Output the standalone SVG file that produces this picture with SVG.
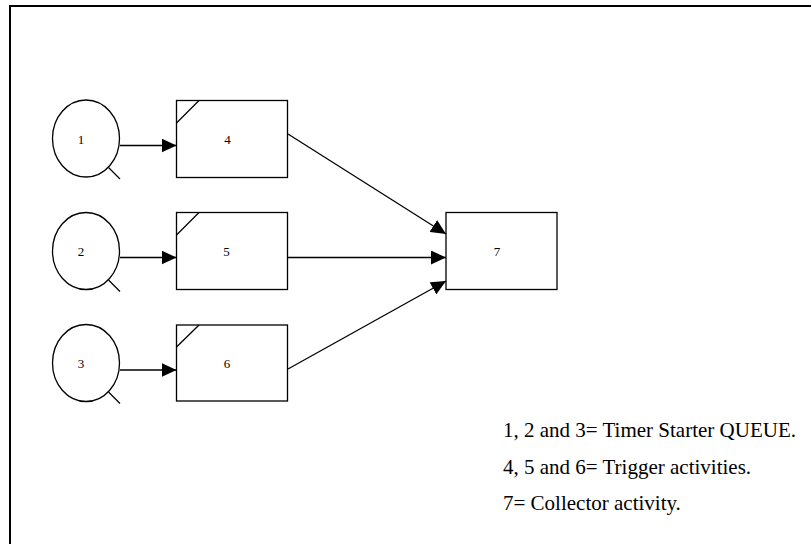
<svg xmlns="http://www.w3.org/2000/svg" width="811" height="544" viewBox="0 0 811 544">
  <style>
    .shape { fill: #ffffff; stroke: #000000; stroke-width: 1.3; }
    .line { fill: none; stroke: #000000; stroke-width: 1.3; }
    .lbl { font-family: "Liberation Serif", "Times New Roman", serif; font-size: 13px; fill: #000000; text-anchor: middle; }
    .note { font-family: "Liberation Serif", "Times New Roman", serif; font-size: 21px; fill: #000000; }
  </style>
  <defs>
    <marker id="arrow" markerWidth="15" markerHeight="14" refX="15" refY="7" orient="auto" markerUnits="userSpaceOnUse">
      <path d="M0,0 L15,7 L0,14 Z" fill="#000000"/>
    </marker>
  </defs>

  <rect width="811" height="544" fill="#ffffff"/>

  <!-- page frame (top and left edges) -->
  <path d="M10,544 L10,6 L811,6" fill="none" stroke="#000000" stroke-width="2"/>

  <!-- timer starter queues -->
  <g id="node-1">
    <ellipse class="shape" cx="86" cy="138.5" rx="33.5" ry="38.5"/>
    <line class="line" x1="108.5" y1="167.5" x2="120" y2="179"/>
    <text class="lbl" x="81" y="143.5">1</text>
  </g>
  <g id="node-2">
    <ellipse class="shape" cx="86" cy="251" rx="33.5" ry="38.5"/>
    <line class="line" x1="108.5" y1="280" x2="120" y2="291.5"/>
    <text class="lbl" x="81" y="256">2</text>
  </g>
  <g id="node-3">
    <ellipse class="shape" cx="86" cy="363" rx="33.5" ry="38.5"/>
    <line class="line" x1="108.5" y1="392" x2="120" y2="403.5"/>
    <text class="lbl" x="81" y="368">3</text>
  </g>

  <!-- trigger activities -->
  <g id="node-4">
    <rect class="shape" x="176.5" y="100.5" width="111" height="77"/>
    <line class="line" x1="176.5" y1="123" x2="199" y2="100.5"/>
    <text class="lbl" x="227.5" y="143.5">4</text>
  </g>
  <g id="node-5">
    <rect class="shape" x="176.5" y="212.5" width="111" height="77"/>
    <line class="line" x1="176.5" y1="235" x2="199" y2="212.5"/>
    <text class="lbl" x="226.5" y="256">5</text>
  </g>
  <g id="node-6">
    <rect class="shape" x="176.5" y="325" width="111" height="76"/>
    <line class="line" x1="176.5" y1="347" x2="199" y2="325"/>
    <text class="lbl" x="227" y="368">6</text>
  </g>

  <!-- collector activity -->
  <g id="node-7">
    <rect class="shape" x="446" y="212.5" width="111" height="77"/>
    <text class="lbl" x="497" y="256">7</text>
  </g>

  <!-- connectors -->
  <g id="connectors">
    <line class="line" x1="120" y1="145.5" x2="176.5" y2="145.5" marker-end="url(#arrow)"/>
    <line class="line" x1="120" y1="257.5" x2="176.5" y2="257.5" marker-end="url(#arrow)"/>
    <line class="line" x1="120" y1="370" x2="176.5" y2="370" marker-end="url(#arrow)"/>
    <line class="line" x1="288" y1="134" x2="446" y2="234" marker-end="url(#arrow)"/>
    <line class="line" x1="288" y1="257.5" x2="446" y2="257.5" marker-end="url(#arrow)"/>
    <line class="line" x1="288" y1="369" x2="446" y2="281" marker-end="url(#arrow)"/>
  </g>

  <!-- legend -->
  <g id="legend">
    <text class="note" x="503" y="437">1, 2 and 3= Timer Starter QUEUE.</text>
    <text class="note" x="503" y="474">4, 5 and 6= Trigger activities.</text>
    <text class="note" x="503" y="510">7= Collector activity.</text>
  </g>
</svg>
